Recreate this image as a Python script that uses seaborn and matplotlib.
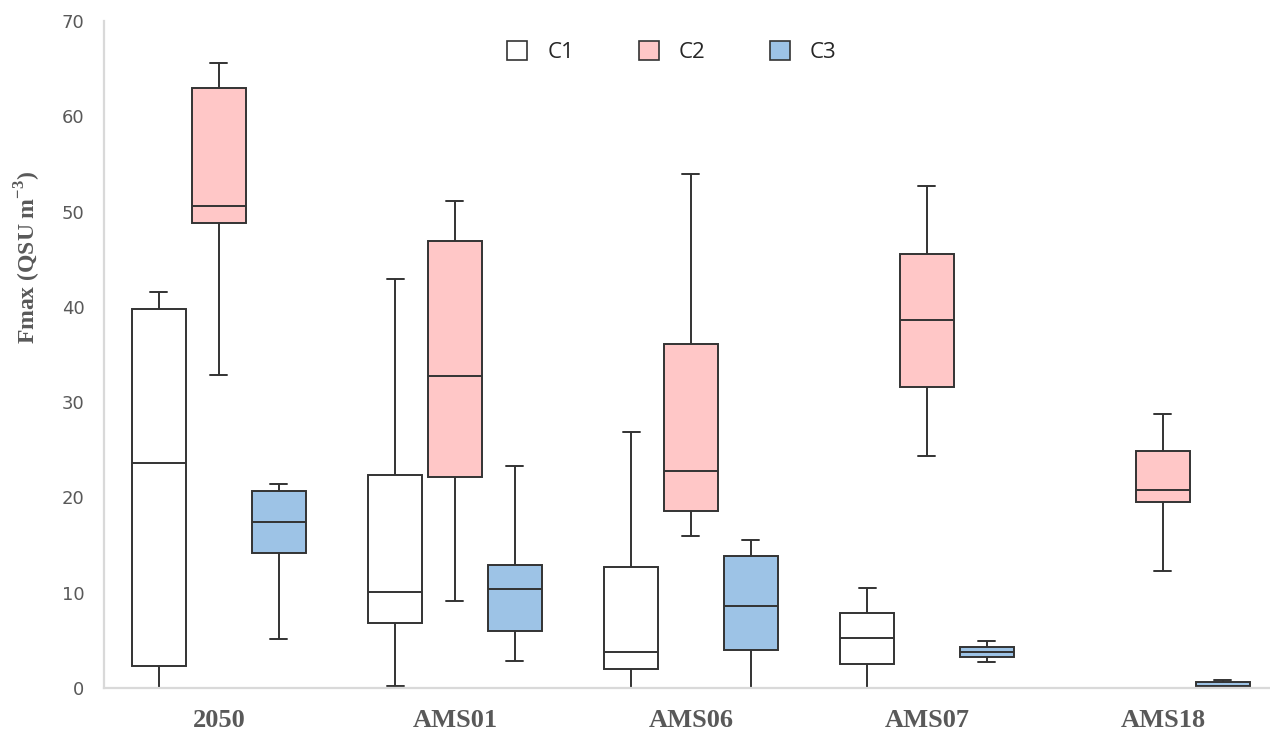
import matplotlib
matplotlib.use("Agg")
import matplotlib.pyplot as plt
from matplotlib.patches import Patch
import seaborn as sns
import pandas as pd

# five-number summaries: [min, q1, median, q3, max]
sites = ["2050", "AMS01", "AMS06", "AMS07", "AMS18"]
components = ["C1", "C2", "C3"]

c1_stats = [
    [0.0, 2.3, 23.6, 39.8, 41.6],
    [0.2, 6.8, 10.1, 22.35, 42.9],
    [0.0, 2.0, 3.8, 12.7, 26.9],
    [0.0, 2.55, 5.2, 7.9, 10.5],
    [0.0, 0.0, 0.0, 0.0, 0.0],
]
c2_stats = [
    [32.9, 48.8, 50.6, 63.0, 65.6],
    [9.1, 22.1, 32.7, 46.9, 51.1],
    [16.0, 18.6, 22.8, 36.1, 53.9],
    [24.4, 31.6, 38.6, 45.5, 52.7],
    [12.3, 19.5, 20.8, 24.9, 28.8],
]
c3_stats = [
    [5.1, 14.2, 17.45, 20.7, 21.4],
    [2.8, 6.0, 10.4, 12.9, 23.3],
    [0.0, 3.95, 8.6, 13.9, 15.5],
    [2.7, 3.25, 3.8, 4.33, 4.9],
    [0.0, 0.0, 0.2, 0.66, 0.84],
]

colors = {"C1": "#FFFFFF", "C2": "#FFC7C7", "C3": "#9DC3E6"}

rows = []
for comp, stats in zip(components, [c1_stats, c2_stats, c3_stats]):
    for site, vals in zip(sites, stats):
        for v in vals:
            rows.append({"site": site, "component": comp, "Fmax": v})
df = pd.DataFrame(rows)

sns.set_style("white")

fig = plt.figure(figsize=(12.7, 7.35), dpi=100)
ax = fig.add_axes([104 / 1270, 47 / 735, 1177 / 1270, 667 / 735])

sns.boxplot(
    data=df, x="site", y="Fmax", hue="component", order=sites,
    hue_order=components, palette=colors, saturation=1,
    width=0.762, gap=0.1, whis=(0, 100), linecolor="#333333",
    linewidth=1.4, capwidths=0.072, ax=ax,
)

ax.set_xlim(-0.487, 4.5)
ax.set_ylim(0, 70)
ax.set_yticks(range(0, 71, 10))

for side in ["top", "right"]:
    ax.spines[side].set_visible(False)
for side in ["left", "bottom"]:
    ax.spines[side].set_color("#D9D9D9")
    ax.spines[side].set_linewidth(1.6)
    ax.spines[side].set_zorder(10)

ax.tick_params(axis="both", length=0)
ax.tick_params(axis="y", pad=14, labelsize=13, labelcolor="#595959")
ax.tick_params(axis="x", pad=15, labelcolor="#595959")
for lbl in ax.get_xticklabels():
    lbl.set_fontfamily("Liberation Serif")
    lbl.set_fontweight("bold")
    lbl.set_fontsize(19)

ax.set_xlabel("")
ax.set_ylabel("Fmax (QSU m$^{\\mathregular{-3}}$)", family="Liberation Serif",
              fontweight="bold", fontsize=17, color="#595959")
ax.yaxis.set_label_coords(-0.052, 0.646)

ax.get_legend().remove()
handles = [Patch(facecolor=colors[c], edgecolor="#333333", linewidth=1.2, label=c)
           for c in components]
fig.legend(handles=handles, loc="center", bbox_to_anchor=(0.529, 0.929), ncol=3,
           frameon=False, handlelength=0.9, handleheight=0.9, handletextpad=0.9,
           columnspacing=2.9, prop={"family": "Open Sans", "size": 16})

fig.savefig("out.png", dpi=100)
